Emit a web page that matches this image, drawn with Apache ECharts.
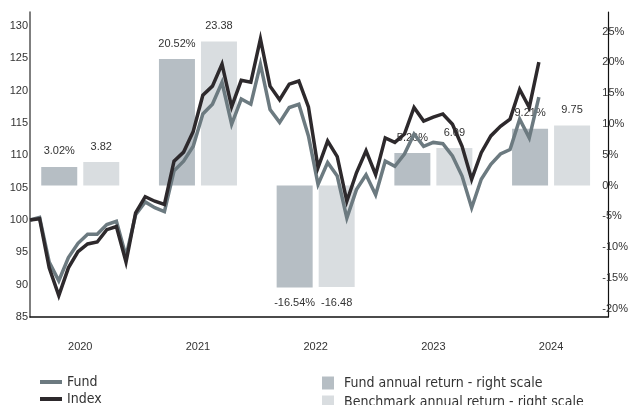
<!DOCTYPE html>
<html>
<head>
<meta charset="utf-8">
<script src="https://cdn.jsdelivr.net/npm/echarts@6/dist/echarts.min.js"></script>
<style>
  html, body { margin: 0; padding: 0; background: #fff; }
  #chart { width: 631px; height: 405px; }
</style>
</head>
<body>
<div id="chart"></div>
<script>
// monthly values, index 0 = start (100)
var fund = [100, 100.4, 93.5, 90.6, 94.2, 96.4, 97.8, 97.8, 99.3, 99.8, 94.4, 100.8, 102.8, 101.9, 101.3,
  107.6, 109.1, 111.4, 116.4, 117.9, 121.3, 114.8, 118.7, 117.9, 124.1, 117.1, 115.1, 117.4, 117.9, 113.0,
  105.5, 108.9, 106.8, 100.3, 104.7, 107.0, 103.9, 109.1, 108.3, 110.2, 113.3, 111.4, 112.0, 111.8, 109.9,
  106.8, 101.9, 106.3, 108.6, 110.2, 110.9, 115.6, 112.7, 119.0];
var index = [100, 100.2, 92.6, 88.3, 92.6, 95.1, 96.3, 96.6, 98.5, 99.0, 93.5, 101.1, 103.6, 102.9, 102.4,
  109.1, 110.5, 113.7, 119.3, 120.7, 124.1, 117.5, 121.6, 121.3, 128.0, 120.7, 118.6, 121.0, 121.5, 117.5,
  108.1, 112.2, 109.8, 102.9, 107.3, 110.7, 107.0, 112.7, 112.0, 113.3, 117.4, 115.3, 115.9, 116.4, 114.8,
  111.4, 106.3, 110.4, 113.0, 114.5, 115.6, 120.2, 117.4, 124.4];

var years = ['2020', '2021', '2022', '2023', '2024'];
var fundReturn = [3.02, 20.52, -16.54, 5.26, 9.21];
var benchReturn = [3.82, 23.38, -16.48, 6.09, 9.75];

var chart = echarts.init(document.getElementById('chart'));

var font = 'Liberation Sans, Arial, sans-serif';
var narrow = 'Liberation Sans Narrow, DejaVu Sans Condensed, sans-serif';

function barData(vals) {
  return vals.map(function (v) {
    return { value: v, label: { position: v < 0 ? 'bottom' : 'top' } };
  });
}

var option = {
  animation: false,
  grid: [
    // frame: axis lines only
    { left: 30, right: 23, top: 12, bottom: 88 },
    // lines, left scale 85..130
    { left: 30, right: 23, top: 26, bottom: 88 },
    // bars, right scale -20%..25%
    { left: 21.4, right: 13.4, top: 31.5, bottom: 96.3 }
  ],
  legend: [
    {
      data: ['Fund', 'Index'],
      orient: 'vertical', left: 40, top: 375, height: 60, padding: 0, itemGap: 3,
      icon: 'rect', itemWidth: 22, itemHeight: 4,
      textStyle: { fontFamily: narrow, fontSize: 14, color: '#333' }
    },
    {
      data: ['Fund annual return - right scale', 'Benchmark annual return - right scale'],
      orient: 'vertical', left: 322, top: 376, height: 60, padding: 0, itemGap: 5,
      icon: 'rect', itemWidth: 12, itemHeight: 13,
      textStyle: { fontFamily: narrow, fontSize: 14, color: '#333', padding: [0, 0, 0, 5] }
    }
  ],
  xAxis: [
    {
      type: 'value', gridIndex: 0, min: 0, max: 1,
      axisLine: { show: true, lineStyle: { color: '#111', width: 1.5 } },
      axisTick: { show: false }, splitLine: { show: false }, axisLabel: { show: false }
    },
    { type: 'value', gridIndex: 1, min: 0, max: 60.2, show: false },
    {
      type: 'category', gridIndex: 2, data: years,
      axisLine: { show: false }, axisTick: { show: false }, splitLine: { show: false },
      axisLabel: { margin: 33, fontSize: 11, fontFamily: font, color: '#333' }
    }
  ],
  yAxis: [
    {
      type: 'value', gridIndex: 0, position: 'left', min: 0, max: 1,
      axisLine: { show: true, lineStyle: { color: '#555', width: 1.5 } },
      axisTick: { show: false }, splitLine: { show: false }, axisLabel: { show: false }
    },
    {
      type: 'value', gridIndex: 0, position: 'right', min: 0, max: 1,
      axisLine: { show: true, lineStyle: { color: '#111', width: 1.2 } },
      axisTick: { show: false }, splitLine: { show: false }, axisLabel: { show: false }
    },
    {
      type: 'value', gridIndex: 1, position: 'left', min: 85, max: 130, interval: 5,
      axisLine: { show: false }, axisTick: { show: false }, splitLine: { show: false },
      axisLabel: { margin: 2, fontSize: 11, fontFamily: font, color: '#333' }
    },
    {
      type: 'value', gridIndex: 2, position: 'right', offset: -9.6, min: -20, max: 25, interval: 5,
      axisLine: { show: false }, axisTick: { show: false }, splitLine: { show: false },
      axisLabel: {
        margin: 2, fontSize: 11, fontFamily: font, color: '#333',
        formatter: function (v) { return v + '%'; }
      }
    }
  ],
  series: [
    {
      name: 'Fund annual return - right scale', type: 'bar', xAxisIndex: 2, yAxisIndex: 3,
      barWidth: 36, barGap: '16.7%', z: 2,
      itemStyle: { color: '#b6bec4' },
      label: {
        show: true, distance: 10, fontSize: 11, fontFamily: font, color: '#333',
        formatter: function (p) { return p.value.toFixed(2) + '%'; }
      },
      data: barData(fundReturn)
    },
    {
      name: 'Benchmark annual return - right scale', type: 'bar', xAxisIndex: 2, yAxisIndex: 3,
      barWidth: 36, z: 2,
      itemStyle: { color: '#d9dde0' },
      label: {
        show: true, distance: 10, fontSize: 11, fontFamily: font, color: '#333',
        formatter: function (p) { return p.value.toFixed(2); }
      },
      data: barData(benchReturn)
    },
    {
      name: 'Fund', type: 'line', xAxisIndex: 1, yAxisIndex: 2, z: 5,
      symbol: 'none', color: '#6c7a80',
      lineStyle: { width: 3.5, join: 'miter' },
      data: fund.map(function (v, i) { return [i, v]; })
    },
    {
      name: 'Index', type: 'line', xAxisIndex: 1, yAxisIndex: 2, z: 6,
      symbol: 'none', color: '#2d292c',
      lineStyle: { width: 3.5, join: 'miter' },
      data: index.map(function (v, i) { return [i, v]; })
    }
  ]
};

chart.setOption(option);
</script>
</body>
</html>
